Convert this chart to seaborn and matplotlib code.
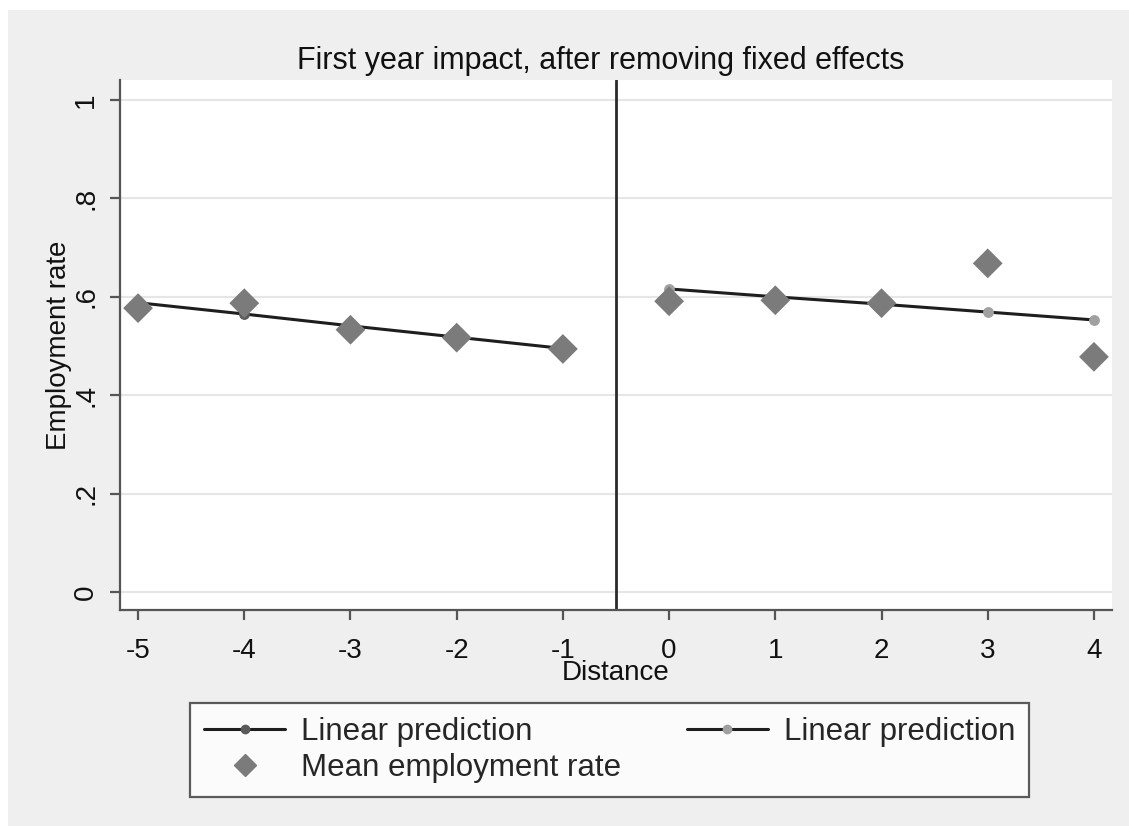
import numpy as np
import pandas as pd
import matplotlib
matplotlib.use("Agg")
import matplotlib.pyplot as plt
from matplotlib.lines import Line2D
import seaborn as sns

# Distance to the cutoff and observed mean employment rates
distance = [-5, -4, -3, -2, -1, 0, 1, 2, 3, 4]
mean_rate = [0.577, 0.587, 0.533, 0.517, 0.494, 0.591, 0.593, 0.587, 0.668, 0.478]

# Fitted linear predictions on each side of the cutoff
left_x = [-5, -4, -3, -2, -1]
left_pred = [0.588, 0.565, 0.541, 0.518, 0.495]
right_x = [0, 1, 2, 3, 4]
right_pred = [0.616, 0.600, 0.585, 0.569, 0.553]

y_ticks = [0, 0.2, 0.4, 0.6, 0.8, 1.0]
y_tick_labels = ["0", ".2", ".4", ".6", ".8", "1"]
x_ticks = distance

sns.set_theme(style="white")
plt.rcParams["font.family"] = ["Liberation Sans", "DejaVu Sans"]

BG = "#efefef"
fig = plt.figure(figsize=(11.29, 8.26), dpi=100)
fig.patch.set_facecolor("white")
# light grey panel behind everything, with a thin white margin top/left
fig.add_artist(plt.Rectangle((8 / 1129, 0), 1, 1 - 10 / 826,
                             transform=fig.transFigure, facecolor=BG,
                             edgecolor="none", zorder=-10))

ax = fig.add_axes([120 / 1129, 1 - 610 / 826, (1112 - 120) / 1129, (610 - 80) / 826])
ax.set_facecolor("white")

df_mean = pd.DataFrame({"distance": distance, "rate": mean_rate})
df_left = pd.DataFrame({"distance": left_x, "pred": left_pred})
df_right = pd.DataFrame({"distance": right_x, "pred": right_pred})

line_col = "#1e1e1e"
sns.lineplot(data=df_left, x="distance", y="pred", ax=ax, color=line_col,
             lw=2.2, marker="o", markersize=7, markerfacecolor="#5a5a5a",
             markeredgecolor="#5a5a5a", zorder=3)
sns.lineplot(data=df_right, x="distance", y="pred", ax=ax, color=line_col,
             lw=2.2, marker="o", markersize=7, markerfacecolor="#a0a0a0",
             markeredgecolor="#a0a0a0", zorder=3)
sns.scatterplot(data=df_mean, x="distance", y="rate", ax=ax, marker="D",
                s=230, color="#7b7b7b", edgecolor="none", zorder=4)

ax.axvline(-0.5, color="#2a2a2a", lw=2, zorder=2)

ax.set_xlim(-5.17, 4.17)
ax.set_ylim(-0.0366, 1.0407)
ax.set_yticks(y_ticks)
ax.set_yticklabels(y_tick_labels, rotation=90, va="center")
ax.set_xticks(x_ticks)
ax.set_xticklabels([str(v) for v in x_ticks])
ax.grid(axis="y", color="#e6e6e6", lw=1.5)
ax.grid(axis="x", visible=False)
for s in ["top", "right"]:
    ax.spines[s].set_visible(False)
for s in ["left", "bottom"]:
    ax.spines[s].set_color("#555555")
    ax.spines[s].set_linewidth(1.6)
ax.tick_params(axis="both", which="both", direction="out", length=7, width=1.6,
               color="#555555", labelsize=20, labelcolor="#111111", pad=8,
               left=True, bottom=True)
ax.tick_params(axis="x", pad=13)

ax.set_xlabel("Distance", fontsize=20, color="#111111", labelpad=-3)
ax.set_ylabel("Employment rate", fontsize=20, color="#111111", labelpad=1)
ax.set_title("First year impact, after removing fixed effects", fontsize=22,
             color="#111111", pad=8, x=0.485)

handles = [
    Line2D([], [], color=line_col, lw=2.2, marker="o", markersize=6,
           markerfacecolor="#5a5a5a", markeredgecolor="#5a5a5a"),
    Line2D([], [], ls="none", marker="D", markersize=11, color="#7b7b7b"),
    Line2D([], [], color=line_col, lw=2.2, marker="o", markersize=6,
           markerfacecolor="#a0a0a0", markeredgecolor="#a0a0a0"),
]
labels = ["Linear prediction", "Mean employment rate", "Linear prediction"]
leg = fig.legend(handles, labels, ncol=2, loc="center",
                 bbox_to_anchor=((187 + 1032) / 2 / 1129, 1 - 750 / 826),
                 fontsize=22.5, frameon=True, fancybox=False, handlelength=2.6,
                 columnspacing=2.1, labelspacing=0.2, borderpad=0.45,
                 handletextpad=0.5)
leg.get_frame().set_edgecolor("#333333")
leg.get_frame().set_linewidth(1.6)
leg.get_frame().set_facecolor("white")

fig.savefig("out.png", dpi=100, facecolor=fig.get_facecolor())
